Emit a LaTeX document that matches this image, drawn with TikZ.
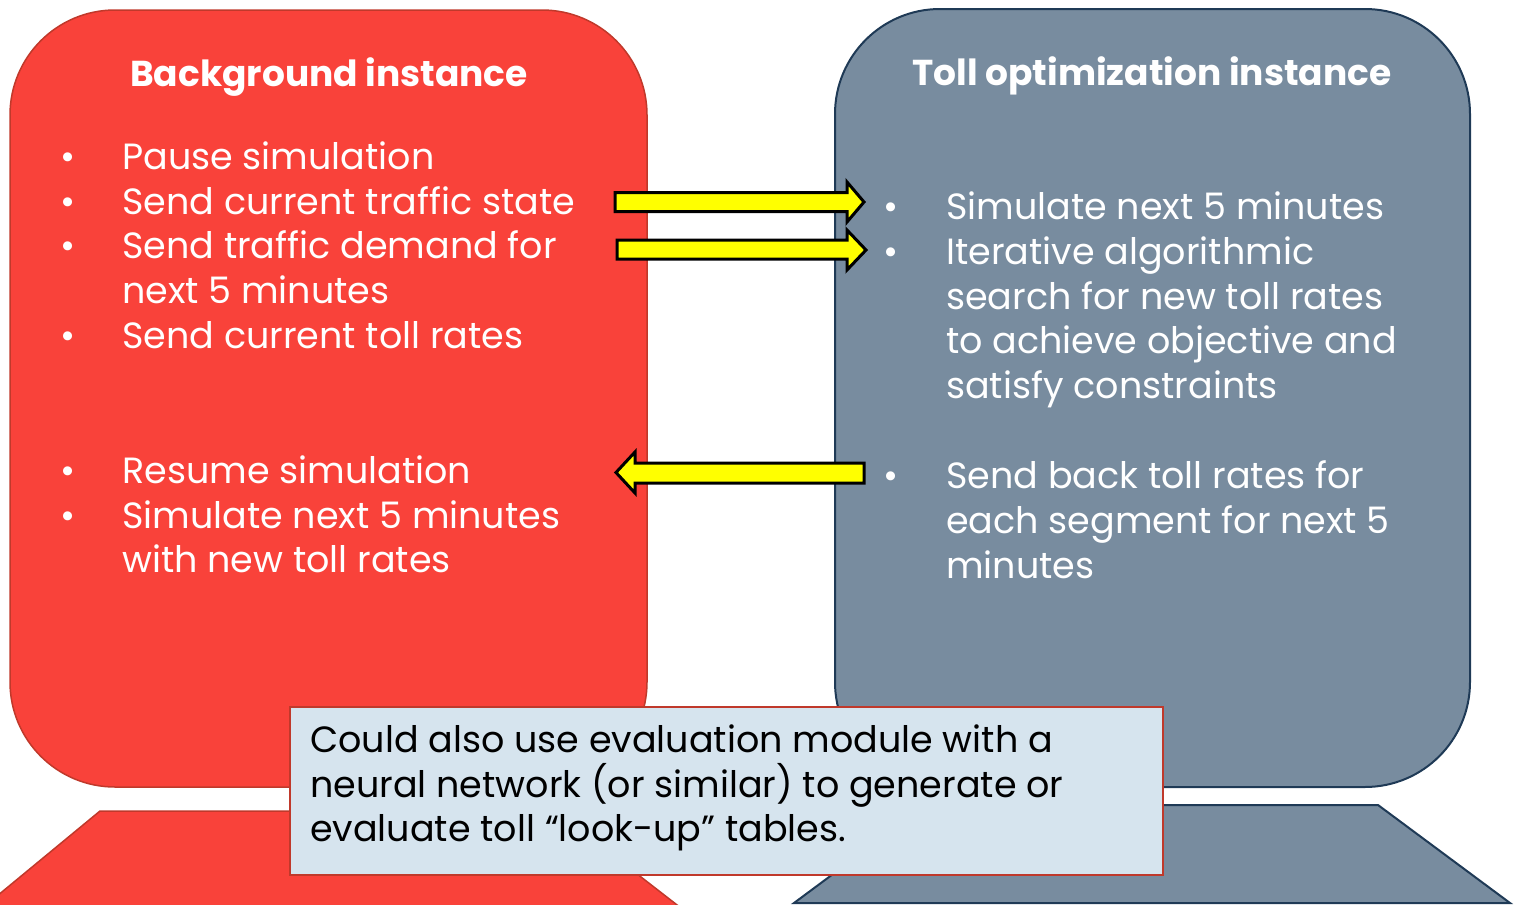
\documentclass[tikz,border=0pt]{standalone}
\usepackage{fontspec}
\setmainfont{Poppins}
\definecolor{redfill}{HTML}{F9423A}
\definecolor{redline}{HTML}{C0392B}
\definecolor{bluefill}{HTML}{788C9F}
\definecolor{blueline}{HTML}{1F3A56}
\definecolor{calloutfill}{HTML}{D6E4EE}
\definecolor{calloutline}{HTML}{C0392B}
\definecolor{arrowyellow}{HTML}{FFFF00}
\begin{document}
\begin{tikzpicture}[x=1pt,y=-1pt,
  txt/.style={anchor=base west, inner sep=0pt, text=white, font=\fontsize{36.5}{42}\selectfont},
  bul/.style={anchor=base, inner sep=0pt, text=white, font=\fontsize{36.5}{42}\selectfont},
  ttl/.style={anchor=base, inner sep=0pt, text=white, font=\fontsize{36}{42}\selectfont\bfseries},
  ctxt/.style={anchor=base west, inner sep=0pt, text=black, font=\fontsize{36.5}{42}\selectfont},
  blockarrow/.style={fill=arrowyellow, draw=black, line width=3pt, line join=miter},
  panel/.style={rounded corners=105pt, line width=1.5pt}]
\useasboundingbox (0,0) rectangle (1516,905);
\begin{scope}
\clip (0,0) rectangle (1516,905);
% panels
\draw[panel, fill=redfill, draw=redline] (10,10) rectangle (647,787);
\draw[panel, fill=bluefill, draw=blueline, line width=2pt] (835,9) rectangle (1470,787);
% bases
\draw[fill=redfill, draw=redline, line width=1.5pt] (100,811) -- (556,811) -- (690,915) -- (-26,915) -- cycle;
\draw[fill=bluefill, draw=blueline, line width=2pt] (926,805) -- (1378,805) -- (1510,903) -- (794,903) -- cycle;
\end{scope}
% titles
\node[ttl] (tl) at (329,86) {Background instance};
\node[ttl] (tr) at (1152,85) {Toll optimization instance};
% left bullets
\foreach \y in {169.5,214.2,258.9,348.3,483.5,528} \node[bul] at (68,\y) {•};
\node[txt] (l1) at (122,169.5) {Pause simulation};
\node[txt] (l2) at (122,214.2) {Send current traffic state};
\node[txt] (l3) at (122,258.9) {Send traffic demand for};
\node[txt] (l4) at (122,303.6) {next 5 minutes};
\node[txt] (l5) at (122,348.3) {Send current toll rates};
\node[txt] (l6) at (122,483.5) {Resume simulation};
\node[txt] (l7) at (122,528) {Simulate next 5 minutes};
\node[txt] (l8) at (122,572.5) {with new toll rates};
% right bullets
\foreach \y in {219.5,264,488.5} \node[bul] at (891,\y) {•};
\node[txt] (r1) at (946,219.5) {Simulate next 5 minutes};
\node[txt] (r2) at (946,264) {Iterative algorithmic};
\node[txt] (r3) at (946,309) {search for new toll rates};
\node[txt] (r4) at (946,353.5) {to achieve objective and};
\node[txt] (r5) at (946,398) {satisfy constraints};
\node[txt] (r6) at (946,488.5) {Send back toll rates for};
\node[txt] (r7) at (946,533) {each segment for next 5};
\node[txt] (r8) at (946,578) {minutes};
% arrows
\draw[blockarrow] (615,192.5) -- (847,192.5) -- (847,182) -- (864,202) -- (847,222) -- (847,211.5) -- (615,211.5) -- cycle;
\draw[blockarrow] (617,240) -- (847,240) -- (847,230) -- (866,250) -- (847,270) -- (847,259) -- (617,259) -- cycle;
\draw[blockarrow] (864,463) -- (635,463) -- (635,452) -- (616,472.5) -- (635,493) -- (635,483) -- (864,483) -- cycle;
% callout
\draw[fill=calloutfill, draw=calloutline, line width=2pt] (290,707) rectangle (1163,875);
\node[ctxt] (c1) at (310,752.3) {Could also use evaluation module with a};
\node[ctxt] (c2) at (310,797) {neural network (or similar) to generate or};
\node[ctxt] (c3) at (310,841.7) {evaluate toll “look-up” tables.};
\end{tikzpicture}
\end{document}
